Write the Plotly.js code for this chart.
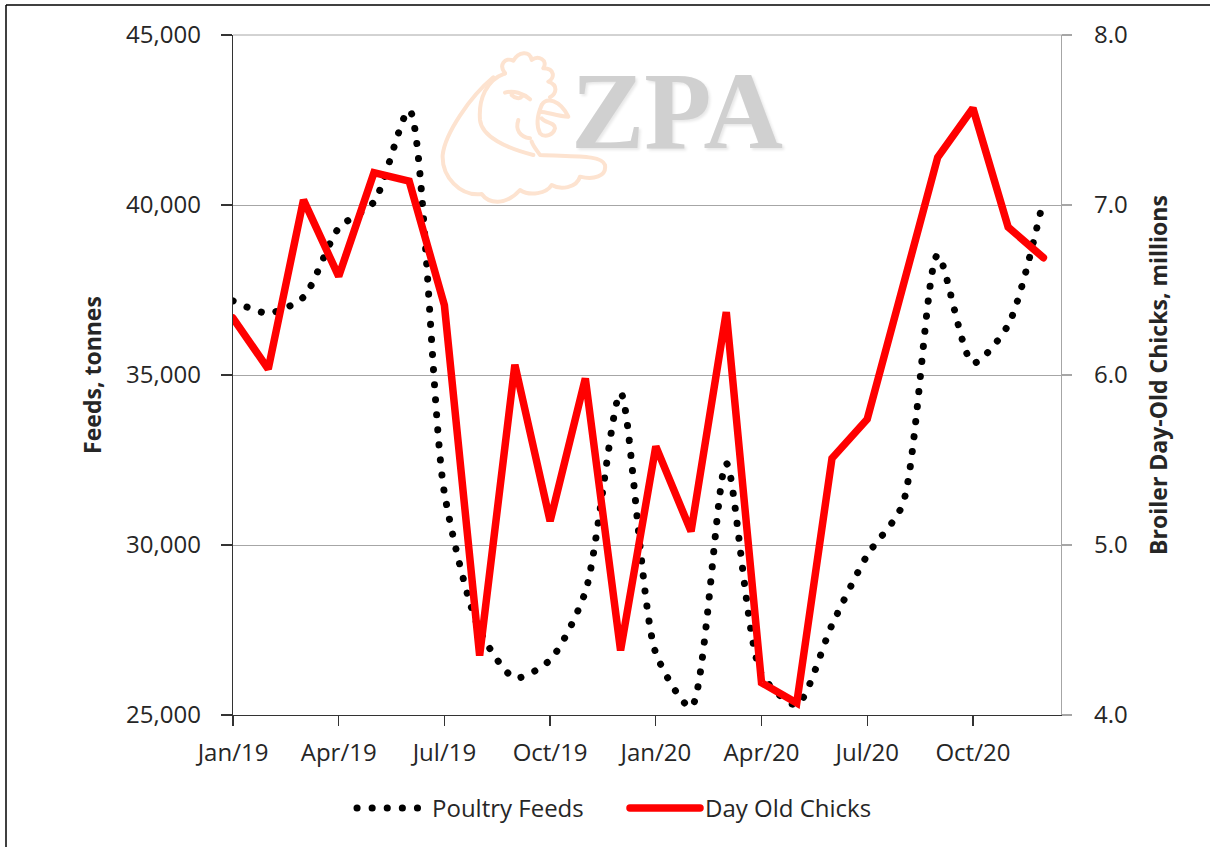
<!DOCTYPE html>
<html>
<head>
<meta charset="utf-8">
<script src="https://cdn.plot.ly/plotly-3.0.1.min.js"></script>
<style>
html,body{margin:0;padding:0;background:#fff;overflow:hidden}
#chart{width:1210px;height:847px}
.trace.scatter:first-child .js-line, .legendlines .js-line{stroke-linecap:round}
.annotation-text{text-shadow:2px 2px 3px #e8e8e8}
</style>
</head>
<body>
<div id="chart"></div>
<script>
const months = ['Jan/19','Feb/19','Mar/19','Apr/19','May/19','Jun/19','Jul/19','Aug/19','Sep/19','Oct/19','Nov/19','Dec/19',
                'Jan/20','Feb/20','Mar/20','Apr/20','May/20','Jun/20','Jul/20','Aug/20','Sep/20','Oct/20','Nov/20','Dec/20'];
const poultryFeeds = [37180,36820,37290,39320,40090,42790,31530,27500,26090,26620,28620,34470,
                      26820,25230,32400,26200,25300,27650,29700,31180,38530,35350,36470,40150];
const dayOldChicks = [6.335,6.035,7.03,6.58,7.19,7.14,6.41,4.35,6.06,5.14,5.98,4.38,
                      5.58,5.08,6.37,4.19,4.07,5.51,5.74,6.51,7.28,7.57,6.87,6.69];
const xTicks = ['Jan/19','Apr/19','Jul/19','Oct/19','Jan/20','Apr/20','Jul/20','Oct/20'];
const leftTicks = [25000,30000,35000,40000,45000];
const rightTicks = [4,5,6,7,8];

const W=1210,H=847,L=233,R=1061,T=35,B=715;
const px = x => (x-L)/(R-L);
const py = y => (B-y)/(B-T);
const FONT = '"Open Sans", sans-serif';
const TXT = '#262626';

const chicken = `<svg xmlns="http://www.w3.org/2000/svg" viewBox="0 0 1140 540" width="1140" height="540">
<g fill="none" stroke="#fde3d0" stroke-width="12" stroke-linecap="round" stroke-linejoin="round">
<path d="M225,100 C205,75 225,50 250,62 C265,35 300,30 305,60 C325,45 355,60 340,85 C375,85 375,115 355,125 C385,135 380,160 360,172"/>
<path d="M225,100 C170,120 145,175 150,240 C155,290 230,325 310,345"/>
<path d="M190,112 C120,170 45,280 38,345 C35,410 90,470 155,462 C175,490 225,500 270,450 C300,470 350,460 365,435 C390,450 440,445 450,410 C490,420 530,410 525,375 C515,345 440,350 330,345 C320,330 310,320 305,305"/>
<path d="M335,195 C350,170 390,180 415,230 C385,230 350,215 330,215"/>
<path d="M335,235 C345,250 375,245 375,265 C370,285 345,295 330,280 C320,260 320,230 335,195"/>
<path d="M265,240 C255,270 270,290 300,295"/>
<path d="M225,158 C250,150 280,160 300,178 M245,165 C255,175 270,178 275,170"/>
</g></svg>`;

const data = [
  {x:months,y:poultryFeeds,name:'Poultry Feeds',type:'scatter',mode:'lines',yaxis:'y',
   line:{color:'#000000',width:7,dash:'0.1px,15px',shape:'spline',smoothing:0.7},hoverinfo:'x+y'},
  {x:months,y:dayOldChicks,name:'Day Old Chicks',type:'scatter',mode:'lines',yaxis:'y2',
   line:{color:'#ff0000',width:7.5,shape:'linear'},hoverinfo:'x+y'}
];

const layout = {
  width:W,height:H,paper_bgcolor:'#fff',plot_bgcolor:'#fff',
  margin:{l:L,r:W-R,t:T,b:H-B,pad:0},
  font:{family:FONT,color:TXT,size:24},
  showlegend:true,
  legend:{orientation:'h',x:px(352),y:py(786),xanchor:'left',yanchor:'top',
          itemwidth:70,entrywidthmode:'pixels',entrywidth:188,font:{family:FONT,size:24,color:TXT},
          bgcolor:'rgba(0,0,0,0)',traceorder:'normal'},
  xaxis:{type:'category',categoryorder:'array',categoryarray:months,range:[0,23.5],
         tickmode:'array',tickvals:xTicks,ticktext:xTicks,ticks:'outside',ticklen:10,tickwidth:1.3,tickcolor:'#333',
         showline:true,linecolor:'#333',linewidth:1.3,showgrid:false,zeroline:false,
         tickfont:{family:FONT,size:24,color:TXT},ticklabelstandoff:6,tickangle:0},
  yaxis:{range:[25000,45000],tickmode:'array',tickvals:leftTicks,tickformat:',d',
         ticks:'outside',ticklen:11,tickwidth:1.3,tickcolor:'#333',
         showline:true,linecolor:'#333',linewidth:1.3,showgrid:true,gridcolor:'#a6a6a6',gridwidth:1,zeroline:false,
         tickfont:{family:FONT,size:24,color:TXT},ticklabelstandoff:15,
         title:{text:'<b>Feeds, tonnes</b>',font:{family:FONT,size:23,color:TXT},standoff:18}},
  yaxis2:{overlaying:'y',side:'right',range:[4,8],tickmode:'array',tickvals:rightTicks,tickformat:'.1f',
         ticks:'outside',ticklen:10,tickwidth:1.2,tickcolor:'#a6a6a6',
         showline:true,linecolor:'#a6a6a6',linewidth:1.2,showgrid:false,zeroline:false,
         tickfont:{family:FONT,size:24,color:TXT},ticklabelstandoff:17,
         title:{text:'<b>Broiler Day-Old Chicks, millions</b>',font:{family:FONT,size:23,color:TXT},standoff:24}},
  shapes:[
    {type:'line',xref:'paper',yref:'paper',x0:px(6),x1:px(6),y0:py(5),y1:py(847),line:{color:'#000',width:1.5}},
    {type:'line',xref:'paper',yref:'paper',x0:px(6),x1:px(1210),y0:py(5),y1:py(5),line:{color:'#000',width:1.5}},
    {type:'line',xref:'paper',yref:'paper',x0:0,x1:px(1071),y0:1,y1:1,line:{color:'#a6a6a6',width:1}}
  ],
  images:[{source:'data:image/svg+xml;charset=utf-8,'+encodeURIComponent(chicken),
           xref:'paper',yref:'paper',x:px(430),y:py(40),sizex:380/(R-L),sizey:180/(B-T),
           xanchor:'left',yanchor:'top',sizing:'stretch',layer:'below',opacity:1}],
  annotations:[{text:'<b>ZPA</b>',xref:'paper',yref:'paper',x:px(677),y:py(111),xanchor:'center',yanchor:'middle',
                showarrow:false,font:{family:'"Liberation Serif", serif',size:110,color:'#d0d0d0'}}]
};
Plotly.newPlot('chart',data,layout,{displayModeBar:false,staticPlot:true});
</script>
</body>
</html>
